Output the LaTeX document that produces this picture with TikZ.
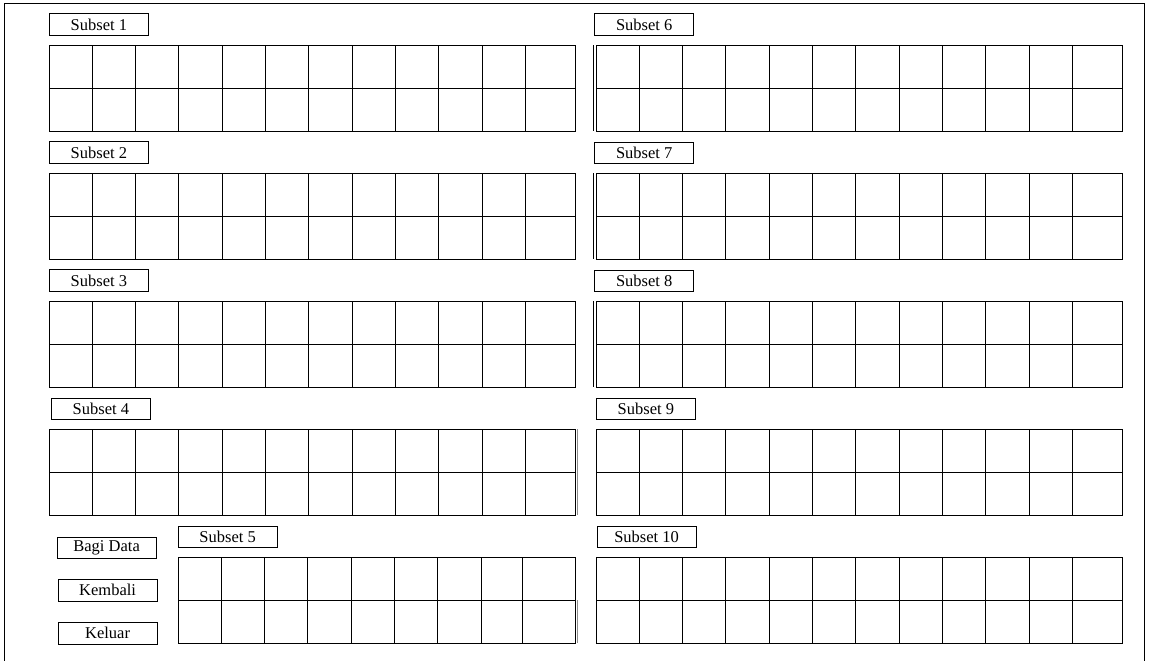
\documentclass[tikz,border=0pt]{standalone}
\usepackage{fontspec}
\setmainfont{Liberation Serif}
\begin{document}
\begin{tikzpicture}[x=1pt,y=-1pt,line width=0.9pt,
  lbl/.style={draw, line width=0.8pt, minimum width=99pt, minimum height=21.7pt, inner sep=0pt, anchor=north west, font=\fontsize{16.5}{18}\selectfont},
  gridln/.style={line width=0.9pt},
  ghost/.style={line width=0.9pt, draw=black!45}]
\useasboundingbox (0,0) rectangle (1151,661);
% outer frame (open at the bottom)
\draw[line width=0.9pt] (4,661) -- (4,3) -- (1144,3) -- (1144,661);

% labels
\node[lbl] (s1) at (49,13.3) {Subset 1};
\node[lbl] (s2) at (49,141.3) {Subset 2};
\node[lbl] (s3) at (49,269.3) {Subset 3};
\node[lbl] (s4) at (51,397.7) {Subset 4};
\node[lbl] (s5) at (177.7,525.7) {Subset 5};
\node[lbl] (s6) at (594.3,13.3) {Subset 6};
\node[lbl] (s7) at (594.3,141.7) {Subset 7};
\node[lbl] (s8) at (594.3,269.7) {Subset 8};
\node[lbl] (s9) at (596,397.7) {Subset 9};
\node[lbl] (s10) at (596.7,525.7) {Subset 10};

% buttons
\node[lbl] (bagi) at (56.7,536.7) {Bagi Data};
\node[lbl] (kembali) at (57.7,579) {Kembali};
\node[lbl] (keluar) at (57.7,622) {Keluar};

% left grids (subsets 1-4)
\foreach \y in {45.3,173.3,301.3,429.3}{
  \draw[gridln] (49,\y) rectangle (575.3,\y+86);
  \draw[gridln] (49,\y+43) -- (575.3,\y+43);
  \foreach \i in {1,...,11}{
    \draw[gridln] (49+\i*43.3,\y) -- (49+\i*43.3,\y+86);
  }
}
% right grids (subsets 6-10)
\foreach \y in {45.3,173.3,301.3,429.3,557.3}{
  \draw[gridln] (596,\y) rectangle (1122.3,\y+86);
  \draw[gridln] (596,\y+43) -- (1122.3,\y+43);
  \foreach \i in {1,...,11}{
    \draw[gridln] (596+\i*43.3,\y) -- (596+\i*43.3,\y+86);
  }
}
% double left edges on subsets 6-8
\foreach \y in {45.3,173.3,301.3}{
  \draw[gridln] (593.6,\y) -- (593.6,\y+86);
}
% subset 4 extra right edge
\draw[ghost] (577.3,429.3) -- (577.3,515.3);

% subset 5 grid
\draw[gridln] (178,557.3) rectangle (575.3,643.3);
\draw[gridln] (178,600.3) -- (575.3,600.3);
\foreach \i in {1,...,7}{
  \draw[gridln] (178+\i*43.3,557.3) -- (178+\i*43.3,643.3);
}
\draw[gridln] (522,557.3) -- (522,643.3);
\draw[ghost] (577.3,600.3) -- (577.3,643.3);
\end{tikzpicture}
\end{document}
